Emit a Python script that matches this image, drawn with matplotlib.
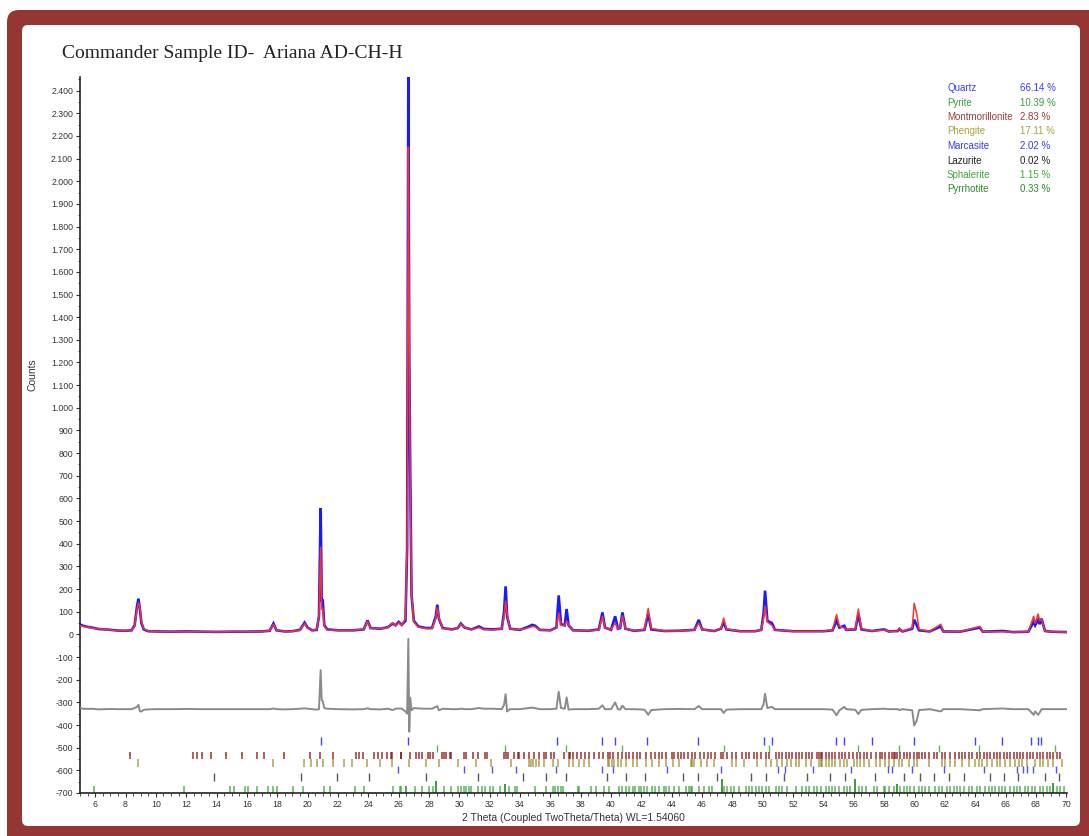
import numpy as np
import matplotlib
matplotlib.use("Agg")
import matplotlib.pyplot as plt
from matplotlib.patches import FancyBboxPatch
from matplotlib.ticker import MultipleLocator, FuncFormatter

# ---------------- data ----------------
two_theta = [5.0, 5.2, 5.5, 5.8, 6.2, 6.6, 7.0, 7.5, 8.0, 8.4, 8.6, 8.75, 8.85, 8.95, 9.05, 9.2, 9.5,
             10.0, 11.0, 12.0, 13.0, 14.0, 15.0, 16.0, 17.0, 17.5, 17.75, 17.95, 18.5, 19.0, 19.5, 19.8,
             20.0, 20.3, 20.6, 20.75, 20.86, 20.93, 21.0, 21.1, 21.3, 22.0, 23.0, 23.7, 23.95, 24.15,
             24.8, 25.3, 25.6, 25.8, 26.0, 26.2, 26.45, 26.56, 26.64, 26.7, 26.76, 26.85, 27.0, 27.3,
             27.8, 28.2, 28.45, 28.55, 28.65, 28.9, 29.5, 29.9, 30.1, 30.35, 30.8, 31.3, 31.6, 32.2,
             32.8, 32.95, 33.05, 33.15, 33.35, 34.0, 34.6, 34.8, 35.0, 35.3, 36.0, 36.4, 36.55, 36.7,
             36.95, 37.07, 37.2, 37.5, 38.5, 39.2, 39.43, 39.6, 40.0, 40.27, 40.45, 40.6, 40.75, 40.95,
             41.5, 42.2, 42.45, 42.65, 43.5, 44.5, 45.5, 45.78, 46.0, 46.8, 47.25, 47.42, 47.6, 48.5,
             49.5, 49.9, 50.05, 50.15, 50.3, 50.6, 50.8, 52.0, 53.0, 54.0, 54.6, 54.86, 55.05, 55.37,
             55.5, 56.1, 56.3, 56.5, 57.2, 58.0, 58.3, 58.9, 59.0, 59.2, 59.85, 59.98, 60.15, 60.3,
             61.0, 61.73, 61.9, 63.0, 64.3, 64.5, 65.8, 66.5, 67.5, 67.85, 67.95, 68.15, 68.25, 68.37,
             68.6, 69.0, 70.0]
obs_counts = [44, 38, 33, 30, 24, 22, 20, 17, 16, 18, 40, 120, 158, 110, 50, 22, 14,
              13, 12, 13, 12, 11, 12, 12, 13, 16, 48, 18, 13, 14, 20, 52,
              30, 18, 20, 80, 557, 150, 150, 40, 22, 18, 18, 22, 62, 28,
              25, 32, 48, 40, 55, 42, 60, 380, 2460, 1250, 750, 175, 60, 35,
              28, 28, 80, 131, 70, 28, 22, 28, 48, 30, 22, 35, 24, 22,
              25, 100, 212, 80, 25, 20, 35, 42, 38, 20, 18, 30, 172, 45,
              40, 112, 40, 18, 16, 22, 97, 30, 20, 80, 25, 28, 97, 25,
              16, 20, 90, 22, 15, 16, 20, 64, 22, 15, 25, 55, 22, 14,
              14, 20, 90, 193, 60, 50, 20, 14, 14, 14, 18, 60, 30, 38,
              20, 22, 90, 22, 15, 22, 13, 15, 24, 13, 25, 65, 40, 18,
              13, 35, 13, 12, 30, 12, 15, 10, 12, 55, 40, 65, 45, 70,
              15, 12, 10]
calc_counts = [38, 36, 32, 28, 25, 22, 19, 17, 16, 18, 35, 110, 139, 120, 60, 25, 15,
               13, 12, 12, 12, 11, 12, 12, 13, 16, 45, 18, 14, 14, 18, 48,
               28, 18, 22, 80, 385, 110, 115, 35, 20, 18, 19, 22, 58, 28,
               26, 30, 52, 38, 52, 40, 70, 400, 2150, 1350, 700, 180, 55, 32,
               26, 26, 70, 118, 75, 26, 22, 28, 46, 30, 22, 30, 22, 20,
               25, 80, 146, 90, 25, 20, 30, 35, 34, 20, 18, 28, 95, 40,
               38, 60, 42, 18, 16, 20, 80, 30, 20, 50, 25, 30, 82, 25,
               16, 22, 115, 26, 15, 15, 20, 50, 22, 15, 25, 72, 24, 14,
               14, 20, 70, 125, 55, 40, 20, 14, 14, 14, 20, 87, 35, 28,
               20, 25, 112, 25, 15, 20, 13, 15, 28, 13, 30, 137, 90, 22,
               13, 45, 13, 12, 35, 12, 12, 10, 12, 80, 50, 90, 60, 70,
               15, 12, 10]
diff_offset = -330

quartz_pos = [20.89, 26.61, 36.47, 39.4, 40.28, 42.4, 45.74, 50.08, 50.58, 54.84, 55.34, 57.21,
              59.95, 64.0, 65.76, 67.69, 68.17, 68.32]
pyrite_pos = [28.54, 33.04, 37.03, 40.71, 47.45, 50.41, 56.26, 58.96, 61.64, 64.27, 69.27]
montmorillonite_pos = [8.28, 12.45, 12.71, 13.04, 13.65, 14.63, 15.68, 16.66, 17.1, 18.42, 20.16, 20.85,
                       21.7, 23.17, 23.4, 23.63, 24.4, 24.65, 24.93, 25.26, 25.48, 25.59, 26.14,
                       26.18, 26.72, 27.16, 27.32, 27.54, 27.93, 28.08, 28.26, 28.85, 28.98, 29.14,
                       29.36, 29.42, 30.28, 30.45, 30.89, 31.26, 31.68, 31.81, 32.93, 33.08, 33.19,
                       33.63, 33.85, 33.96, 34.29, 34.62, 34.95, 35.28, 35.56, 35.71, 36.04, 36.24,
                       36.92, 37.21, 37.29, 37.47, 37.73, 38.02, 38.26, 38.57, 38.85, 39.22, 39.44,
                       39.77, 39.95, 40.15, 40.43, 40.69, 41.0, 41.2, 41.42, 41.68, 41.9, 42.29,
                       42.62, 42.91, 43.13, 43.39, 43.61, 44.0, 44.18, 44.4, 44.62, 44.84, 45.04,
                       45.36, 45.54, 45.85, 46.13, 46.4, 46.59, 46.83, 47.23, 47.38, 47.67, 48.0,
                       48.22, 48.65, 48.87, 49.09, 49.42, 49.64, 49.86, 50.19, 50.41, 50.85, 51.07,
                       51.28, 51.5, 51.72, 51.94, 52.16, 52.38, 52.6, 52.82, 53.04, 53.26, 53.59,
                       53.7, 53.81, 53.92, 54.14, 54.36, 54.57, 54.79, 55.01, 55.23, 55.45, 55.71,
                       55.93, 56.22, 56.44, 56.66, 56.88, 57.1, 57.43, 57.75, 57.86, 58.08, 58.3,
                       58.52, 58.63, 58.74, 58.85, 59.07, 59.29, 59.51, 59.73, 59.95, 60.17, 60.28,
                       60.5, 60.71, 60.93, 61.26, 61.48, 61.81, 62.03, 62.36, 62.69, 62.91, 63.13,
                       63.35, 63.57, 63.78, 64.11, 64.33, 64.55, 64.77, 64.99, 65.21, 65.43, 65.65,
                       65.87, 66.09, 66.31, 66.53, 66.75, 66.96, 67.18, 67.4, 67.62, 67.84, 68.06,
                       68.28, 68.5, 68.72, 68.94, 69.16, 69.38, 69.6]
phengite_pos = [8.83, 17.7, 19.75, 20.2, 20.62, 21.0, 21.7, 22.38, 22.9, 23.9, 24.77, 25.56,
                26.66, 27.78, 28.65, 29.9, 31.11, 32.1, 33.41, 34.58, 34.73, 34.88, 35.06, 35.28,
                35.61, 36.15, 36.48, 37.25, 37.51, 37.91, 38.24, 38.57, 39.77, 39.88, 40.03, 40.21,
                40.43, 40.65, 40.98, 41.42, 41.68, 42.29, 42.73, 43.17, 43.61, 44.05, 44.49, 45.25,
                45.36, 45.47, 45.91, 46.35, 46.79, 47.99, 48.22, 48.76, 49.64, 50.19, 50.52, 50.96,
                51.28, 51.61, 51.83, 52.16, 52.38, 52.82, 53.15, 53.7, 53.81, 53.92, 54.14, 54.36,
                54.57, 54.79, 55.12, 55.34, 55.56, 55.99, 56.22, 56.44, 56.66, 56.99, 57.43, 57.75,
                58.08, 58.3, 58.63, 58.96, 59.18, 59.62, 59.95, 60.17, 60.93, 61.81, 62.03, 62.36,
                62.69, 63.13, 63.57, 64.0, 64.22, 64.44, 64.77, 65.1, 65.43, 65.65, 65.98, 66.31,
                66.64, 66.86, 67.07, 67.4, 67.95, 68.28, 68.5, 68.83, 69.16, 69.71]
marcasite_pos = [25.97, 30.34, 32.16, 33.74, 36.37, 39.4, 40.1, 43.72, 47.23, 51.02, 51.46, 53.3,
                 55.82, 58.26, 58.52, 59.84, 61.92, 64.6, 66.75, 67.18, 67.4, 67.8, 69.33]
lazurite_pos = [13.83, 19.57, 21.94, 24.07, 27.78, 31.22, 34.22, 35.71, 37.03, 39.71, 40.98, 42.25,
                44.71, 45.76, 47.01, 49.2, 50.23, 51.39, 52.93, 54.46, 55.45, 57.38, 59.33, 60.39,
                61.26, 62.25, 63.24, 64.99, 65.87, 66.81, 68.57, 69.49]
sphalerite_pos = [28.43, 33.04, 47.34, 56.11, 58.85, 69.16]
sphalerite_len = [55, 40, 62, 60, 38, 42]
pyrrhotite_pos = [5.91, 11.84, 14.9, 15.14, 15.85, 16.07, 16.66, 17.38, 17.71, 17.99, 19.03, 19.68,
                  21.07, 21.5, 23.15, 23.69, 25.65, 26.09, 26.48, 26.18, 26.5, 27.05, 27.56, 28.0,
                  28.26, 28.96, 29.47, 29.9, 30.08, 30.28, 30.45, 30.67, 30.78, 31.22, 31.5, 31.66,
                  32.03, 32.2, 32.65, 33.3, 33.7, 33.79, 35.01, 35.71, 36.2, 36.33, 36.48, 36.7,
                  36.81, 37.8, 37.91, 38.68, 39.0, 39.55, 39.88, 40.54, 40.71, 40.98, 41.2, 41.42,
                  41.59, 41.81, 41.97, 42.18, 42.4, 42.73, 42.91, 43.17, 43.5, 43.61, 43.83, 44.16,
                  44.49, 44.93, 45.14, 45.25, 45.36, 45.8, 46.13, 46.46, 46.68, 47.45, 47.67, 47.89,
                  48.1, 48.43, 48.87, 49.09, 49.31, 49.53, 49.75, 49.97, 50.19, 50.41, 50.85, 51.07,
                  51.28, 51.61, 52.16, 52.6, 52.82, 53.04, 53.37, 53.59, 53.81, 54.14, 54.36, 54.57,
                  54.79, 55.01, 55.34, 55.56, 55.78, 56.33, 56.55, 56.77, 57.32, 57.54, 57.97, 58.08,
                  58.3, 58.63, 59.07, 59.29, 59.51, 59.73, 59.95, 60.28, 60.5, 60.71, 60.93, 61.37,
                  61.59, 61.81, 62.14, 62.36, 62.58, 62.8, 63.02, 63.24, 63.57, 63.78, 64.11, 64.33,
                  64.66, 64.88, 65.1, 65.32, 65.54, 65.76, 65.98, 66.31, 66.53, 66.75, 66.96, 67.29,
                  67.51, 67.73, 67.95, 68.28, 68.5, 68.72, 68.94, 69.38, 69.6, 69.82]

phase_names = ["Quartz", "Pyrite", "Montmorillonite", "Phengite", "Marcasite", "Lazurite",
               "Sphalerite", "Pyrrhotite"]
phase_pct = ["66.14 %", "10.39 %", "2.83 %", "17.11 %", "2.02 %", "0.02 %", "1.15 %", "0.33 %"]
phase_colors = ["#3a3aff", "#3c9a3c", "#a03c3c", "#a8a040", "#3a3ae8", "#222222", "#40a840", "#2e8a2e"]

title = "Commander Sample ID-  Ariana AD-CH-H"
xlabel = "2 Theta (Coupled TwoTheta/Theta) WL=1.54060"
ylabel = "Counts"

# ---------------- figure ----------------
W, H = 1089, 836
fig = plt.figure(figsize=(W / 100, H / 100), dpi=100)
fig.patch.set_facecolor("white")

def px_box(x0, y0, x1, y1):
    return (x0 / 100, (H - y1) / 100, (x1 - x0) / 100, (y1 - y0) / 100)

bx, by, bw, bh = px_box(7, 10, 1110, 860)
outer = FancyBboxPatch((bx, by), bw, bh, boxstyle="round,pad=0,rounding_size=0.12",
                       transform=fig.dpi_scale_trans, facecolor="#963634", edgecolor="none", zorder=-10)
fig.add_artist(outer)
bx, by, bw, bh = px_box(22, 25, 1080, 826)
inner = FancyBboxPatch((bx, by), bw, bh, boxstyle="round,pad=0,rounding_size=0.06",
                       transform=fig.dpi_scale_trans, facecolor="white", edgecolor="none", zorder=-9)
fig.add_artist(inner)

ax = fig.add_axes([80 / W, (H - 793) / H, (1067 - 80) / W, (793 - 77) / H])
ax.set_facecolor("none")
ax.set_xlim(5.0, 70.05)
ax.set_ylim(-700, 2460)

x = np.array(two_theta)
yo = np.array(obs_counts)
yc = np.array(calc_counts)
ax.plot(x, yo, color="#1a1aff", lw=1.9, zorder=3, solid_joinstyle="miter")
ax.plot(x, yc, color="#ff3030", lw=1.1, zorder=4)
ax.plot(x, yo - yc + diff_offset, color="#8a8a8a", lw=1.4, zorder=3)

# reflection stick rows
ax.vlines(quartz_pos, -488, -455, colors="#4040ff", lw=1.0)
ax.vlines(pyrite_pos, -518, -490, colors="#44aa44", lw=1.0, alpha=0.85)
ax.vlines(montmorillonite_pos, -552, -518, colors="#8b0c0c", lw=1.2, alpha=0.78)
ax.vlines(phengite_pos, -584, -552, colors="#857e08", lw=1.2, alpha=0.65)
ax.vlines(marcasite_pos, -612, -580, colors="#3030ff", lw=1.0, alpha=0.85)
ax.vlines(lazurite_pos, -645, -612, colors="#222222", lw=1.0, alpha=0.75)
ax.vlines(pyrrhotite_pos, -700, -670, colors="#1a961a", lw=1.1, alpha=0.7)
ax.vlines(sphalerite_pos, -700, np.array(sphalerite_len) - 700, colors="#1a8a1a", lw=1.2)

for s in ["top", "right"]:
    ax.spines[s].set_visible(False)
for s in ["left", "bottom"]:
    ax.spines[s].set_color("#222222")
    ax.spines[s].set_linewidth(1.2)

ax.xaxis.set_major_locator(MultipleLocator(2))
ax.xaxis.set_minor_locator(MultipleLocator(0.5))
ax.yaxis.set_major_locator(MultipleLocator(100))
ax.yaxis.set_minor_locator(MultipleLocator(50))
ax.set_xticks(np.arange(6, 71, 2))

def yfmt(v, pos):
    iv = int(round(v))
    s = f"{abs(iv):,}".replace(",", ".")
    return ("-" if iv < 0 else "") + s

ax.yaxis.set_major_formatter(FuncFormatter(yfmt))
ax.tick_params(axis="both", which="major", labelsize=6.3, length=3, width=0.8, color="#333333",
               labelcolor="#333333", pad=2)
ax.tick_params(axis="both", which="minor", length=1.8, width=0.6, color="#333333")
for lab in ax.get_xticklabels() + ax.get_yticklabels():
    lab.set_fontfamily("Liberation Sans")

ax.set_xlabel(xlabel, fontsize=7.5, color="#333333", family="Liberation Sans", labelpad=3)
fig.text(33 / W, 1 - 375 / H, ylabel, fontsize=7.5, color="#333333", family="Liberation Sans",
         rotation=90, ha="center", va="center")

fig.text(62 / W, 1 - 53 / H, title, fontsize=14, family="Liberation Serif", color="#222222",
         va="center", ha="left")

row_y = [88, 102.5, 117, 131.5, 146, 160.5, 175, 189.5]
for name, pct, col, yy in zip(phase_names, phase_pct, phase_colors, row_y):
    fig.text(947 / W, 1 - yy / H, name, fontsize=7, color=col, family="Liberation Sans", va="center")
    fig.text(1020 / W, 1 - yy / H, pct, fontsize=7, color=col, family="Liberation Sans", va="center")

fig.savefig("out.png", dpi=100)
